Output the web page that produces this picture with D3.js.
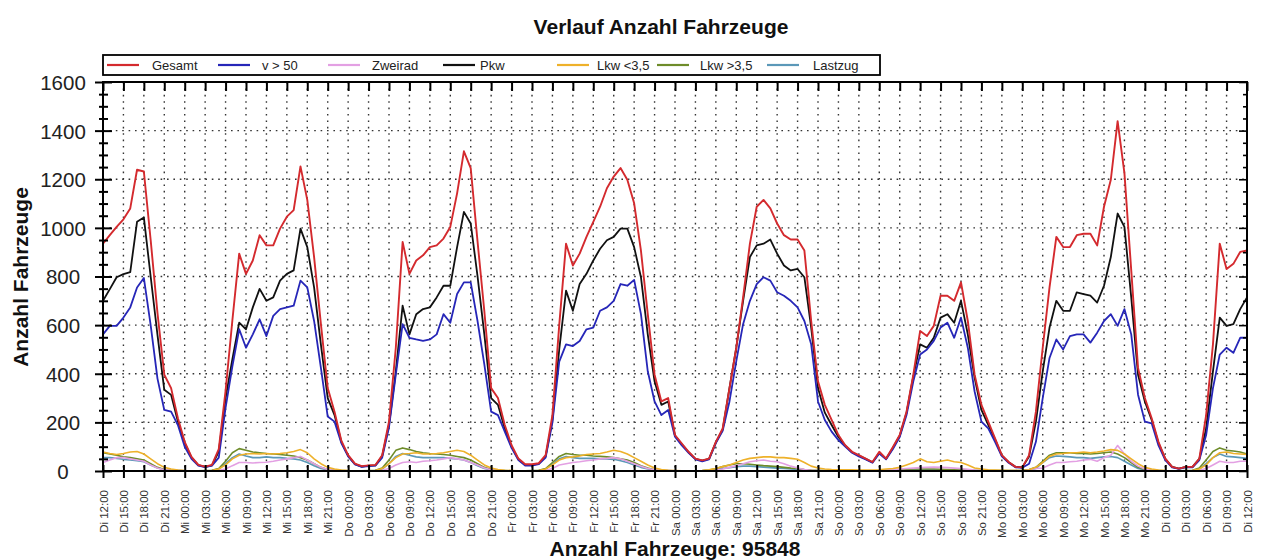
<!DOCTYPE html>
<html><head><meta charset="utf-8">
<script src="https://cdn.jsdelivr.net/npm/d3@7"></script>
<style>
body{margin:0;background:#fff;}
svg{display:block;font-family:"Liberation Sans",Arial,Helvetica,sans-serif;}
</style>
</head><body>
<svg id="chart" width="1261" height="560"></svg>
<script>
// ---- data (hourly, Di 12:00 .. Di 12:00) ----
const tickLabels = ["Di 12:00","Di 15:00","Di 18:00","Di 21:00",
"Mi 00:00","Mi 03:00","Mi 06:00","Mi 09:00","Mi 12:00","Mi 15:00","Mi 18:00","Mi 21:00",
"Do 00:00","Do 03:00","Do 06:00","Do 09:00","Do 12:00","Do 15:00","Do 18:00","Do 21:00",
"Fr 00:00","Fr 03:00","Fr 06:00","Fr 09:00","Fr 12:00","Fr 15:00","Fr 18:00","Fr 21:00",
"Sa 00:00","Sa 03:00","Sa 06:00","Sa 09:00","Sa 12:00","Sa 15:00","Sa 18:00","Sa 21:00",
"So 00:00","So 03:00","So 06:00","So 09:00","So 12:00","So 15:00","So 18:00","So 21:00",
"Mo 00:00","Mo 03:00","Mo 06:00","Mo 09:00","Mo 12:00","Mo 15:00","Mo 18:00","Mo 21:00",
"Di 00:00","Di 03:00","Di 06:00","Di 09:00","Di 12:00"];

const seriesNames = ["Gesamt","v > 50","Zweirad","Pkw","Lkw <3,5","Lkw >3,5","Lastzug"];

const gesamt = [
935,970,1004,1035,1080,1239,1232,950,650,396,341,217,
120,58,25,18,25,90,330,620,894,811,866,970,
928,928,997,1046,1073,1253,1115,880,604,341,244,125,
65,30,20,23,25,65,203,507,942,811,866,887,
921,928,956,1004,1142,1315,1246,945,657,341,300,189,
106,51,28,28,32,65,230,600,935,845,894,963,
1025,1087,1163,1211,1246,1198,1101,906,645,396,286,300,
148,113,79,51,44,51,120,175,341,507,714,935,
1087,1115,1080,1018,970,952,952,907,617,369,272,210,
148,106,79,65,51,37,79,51,99,148,244,396,
576,555,597,721,721,700,776,617,396,272,203,134,
65,37,17,15,65,244,507,755,963,921,921,970,
976,976,928,1087,1198,1439,1225,825,424,300,217,120,
51,17,10,17,17,51,230,521,935,831,852,901,907];

const v50 = [
562,597,597,631,673,755,794,600,380,251,244,189,
100,50,22,16,22,55,260,430,583,507,562,624,
555,638,666,673,680,783,755,617,424,224,203,115,
60,27,17,20,22,55,180,396,604,548,541,535,
541,562,645,610,728,776,776,617,439,244,230,162,
95,45,22,22,28,55,200,450,521,514,535,583,
590,659,673,700,769,762,786,645,410,286,230,251,
141,105,75,48,40,48,115,165,286,452,604,700,
769,797,783,735,721,700,673,617,521,286,210,162,
127,100,75,60,48,34,72,48,90,140,230,369,
479,500,535,590,610,548,631,507,327,203,175,120,
60,34,15,13,30,120,300,465,541,500,555,562,
562,528,569,617,645,597,666,562,314,203,196,105,
45,15,9,15,15,45,148,341,479,507,486,548,548];

const pkw = [
700,748,797,810,818,1025,1043,800,560,334,313,203,
115,55,24,17,23,80,300,460,610,583,673,749,
700,714,783,811,825,997,921,755,520,300,230,120,
62,28,18,22,23,62,190,410,680,562,645,666,
673,714,762,762,921,1066,1018,802,562,300,272,175,
100,48,25,25,30,60,210,500,742,659,769,811,
866,914,949,963,997,997,921,797,562,369,272,286,
145,110,77,50,43,50,118,170,341,507,700,880,
928,935,952,894,845,825,831,797,590,341,240,189,
140,104,77,63,50,36,75,50,95,145,240,390,
521,507,548,631,645,610,700,562,383,251,190,130,
63,36,17,15,60,203,410,590,700,659,659,735,
728,721,693,762,880,1059,1004,714,396,286,210,115,
50,17,10,17,17,50,175,410,631,597,604,666,714];

const zweirad = [
35,45,55,55,50,45,40,25,12,5,3,2,
1,0,0,0,1,3,8,22,35,35,33,35,
36,40,45,50,55,60,45,30,15,6,3,1,
1,0,0,0,1,3,10,25,35,38,35,40,
42,45,50,55,50,45,35,25,12,5,3,1,
1,0,0,0,1,3,10,25,30,35,38,42,
45,50,52,55,50,40,30,20,10,5,3,2,
1,1,0,0,0,1,3,8,15,22,30,38,
42,45,40,38,30,20,12,6,3,2,1,1,
0,0,0,0,0,1,2,4,6,8,10,12,
14,15,16,15,14,12,10,7,4,2,1,1,
0,0,0,0,5,10,12,25,35,35,38,40,
45,48,40,55,65,105,70,40,20,8,3,1,
0,0,0,0,1,3,10,25,40,35,35,40,40];

const lkwKlein = [
78,72,68,72,78,80,70,50,30,15,8,4,
2,1,1,1,2,8,25,50,65,70,72,70,
72,70,72,75,80,88,75,50,30,15,8,4,
2,1,1,1,2,10,30,55,70,72,75,70,
70,72,75,80,85,80,65,45,25,12,6,3,
2,1,1,1,2,8,25,45,55,58,62,68,
70,72,78,85,80,70,55,40,25,12,6,3,
2,1,1,1,2,5,10,18,25,35,45,52,
55,58,58,55,55,52,48,35,20,12,8,6,
5,5,5,4,4,4,5,8,10,15,25,35,
50,38,35,40,45,38,35,25,12,8,5,4,
3,2,2,2,5,15,35,60,70,72,75,75,
78,75,78,82,88,85,70,50,30,15,8,4,
2,1,1,1,2,8,25,55,75,78,72,70,68];

const lkwGross = [
75,70,65,58,55,50,45,30,15,6,3,2,
1,1,1,2,3,10,40,75,92,85,78,75,
72,70,68,65,62,55,45,30,15,6,3,2,
1,1,1,2,3,12,45,85,95,88,80,75,
72,70,68,65,60,55,45,30,15,6,3,2,
1,1,1,2,3,10,35,60,72,68,65,65,
62,60,58,55,50,45,35,22,12,5,3,2,
1,1,1,1,2,4,10,18,25,30,30,28,
25,22,20,18,15,12,10,6,4,3,2,2,
1,1,1,1,1,1,2,3,4,5,6,8,
8,8,8,7,6,5,4,3,2,2,2,2,
2,2,2,3,6,15,40,65,75,75,75,72,
72,70,72,75,78,70,55,35,15,6,3,2,
1,1,1,2,3,12,45,80,95,85,82,78,70];

const lastzug = [
55,55,52,48,45,42,38,25,12,5,3,2,
1,1,1,1,2,8,30,55,70,62,55,55,
58,55,55,52,50,45,35,22,10,4,2,1,
1,1,1,1,2,8,30,60,72,65,58,55,
55,55,55,52,50,45,35,22,10,4,2,1,
1,1,1,1,2,8,28,50,60,55,52,52,
52,50,50,48,42,35,25,15,8,3,2,1,
1,1,1,1,1,3,6,10,14,18,20,20,
18,16,14,12,10,8,6,4,2,1,1,1,
1,1,1,1,1,1,1,2,3,4,4,5,
5,5,5,4,4,3,3,2,2,1,1,1,
1,1,1,1,3,10,35,55,62,60,58,55,
55,52,55,58,60,55,40,25,10,4,2,1,
1,1,1,1,2,8,30,55,70,60,58,55,52];

const totalCount = 95848;

// ---- layout ----
const svg = d3.select("#chart");
const L = 103, R = 1247, T = 82, B = 471;
const nHours = gesamt.length - 1;
const x = d3.scaleLinear().domain([0, nHours]).range([L, R]);
const y = d3.scaleLinear().domain([0, 1600]).range([B, T]);
const tickHours = tickLabels.map((d, i) => i * 3);

// grid
const grid = svg.append("g").attr("stroke", "#333").attr("stroke-width", 1.4)
  .attr("stroke-dasharray", "1.6,4.8");
grid.selectAll("line.gh").data(d3.range(200, 1600, 200)).join("line").attr("class", "gh")
  .attr("x1", L).attr("x2", R).attr("y1", d => y(d)).attr("y2", d => y(d));
grid.selectAll("line.gv").data(tickHours.slice(1, -1)).join("line").attr("class", "gv")
  .attr("y1", T).attr("y2", B).attr("x1", d => x(d)).attr("x2", d => x(d));

// series
const series = [
  {name: "Lastzug", values: lastzug, color: "#5b98b8", w: 1.6},
  {name: "Lkw >3,5", values: lkwGross, color: "#6e8c2a", w: 1.6},
  {name: "Zweirad", values: zweirad, color: "#e3a0e3", w: 1.6},
  {name: "Lkw <3,5", values: lkwKlein, color: "#eeb12a", w: 1.6},
  {name: "Pkw", values: pkw, color: "#111111", w: 1.8},
  {name: "v > 50", values: v50, color: "#2626b8", w: 1.8},
  {name: "Gesamt", values: gesamt, color: "#d42a2e", w: 1.9}
];
const line = d3.line().x((d, i) => x(i)).y(d => y(d));
svg.append("g").selectAll("path").data(series).join("path")
  .attr("d", d => line(d.values)).attr("fill", "none")
  .attr("stroke", d => d.color).attr("stroke-width", d => d.w)
  .attr("stroke-linejoin", "round");

// axes
const axB = svg.append("g").attr("transform", `translate(0,${B})`)
  .call(d3.axisBottom(x).tickValues(tickHours).tickFormat((d, i) => tickLabels[i]).tickSizeOuter(0));
axB.selectAll(".tick line").attr("y1", -6).attr("y2", 7).attr("stroke", "#000").attr("stroke-width", 2);
axB.selectAll(".tick text").attr("transform", "rotate(-90)").attr("x", -19).attr("y", 0)
  .attr("dy", "0.36em").attr("text-anchor", "end").attr("font-size", 11.5)
  .attr("font-family", "'Liberation Sans',Arial,sans-serif").attr("fill", "#333");

const axT = svg.append("g").attr("transform", `translate(0,${T})`)
  .call(d3.axisTop(x).tickValues(tickHours).tickFormat("").tickSizeOuter(0));
axT.selectAll(".tick line").attr("y1", 0).attr("y2", 9).attr("stroke", "#000").attr("stroke-width", 2);

const yTicks = d3.range(0, 1601, 50);
const axLft = svg.append("g").attr("transform", `translate(${L},0)`)
  .call(d3.axisLeft(y).tickValues(yTicks).tickFormat(d => d % 200 === 0 ? d : "").tickSizeOuter(0));
axLft.selectAll(".tick line").attr("x1", d => d % 200 === 0 ? -8 : -4).attr("x2", d => d % 200 === 0 ? 9 : 5)
  .attr("stroke", "#000").attr("stroke-width", 2);
axLft.selectAll(".tick text").attr("x", -40).attr("text-anchor", "middle").attr("dy", "0.36em")
  .attr("font-size", 20.5).attr("font-family", "'Liberation Sans',Arial,sans-serif").attr("fill", "#222");

const axRt = svg.append("g").attr("transform", `translate(${R},0)`)
  .call(d3.axisRight(y).tickValues(yTicks).tickFormat("").tickSizeOuter(0));
axRt.selectAll(".tick line").attr("x1", d => d % 200 === 0 ? -8 : -4).attr("x2", 0)
  .attr("stroke", "#000").attr("stroke-width", 1.6);

svg.selectAll(".domain").remove();
svg.append("rect").attr("x", L).attr("y", T).attr("width", R - L).attr("height", B - T)
  .attr("fill", "none").attr("stroke", "#000").attr("stroke-width", 2);

// titles
svg.append("text").attr("x", 661).attr("y", 34).attr("text-anchor", "middle")
  .attr("font-size", 21).attr("font-weight", "bold").attr("fill", "#111")
  .text("Verlauf Anzahl Fahrzeuge");
svg.append("text").attr("x", 675).attr("y", 556).attr("text-anchor", "middle")
  .attr("font-size", 21).attr("font-weight", "bold").attr("fill", "#111")
  .text("Anzahl Fahrzeuge: " + totalCount);
svg.append("text").attr("transform", "translate(28,277) rotate(-90)").attr("text-anchor", "middle")
  .attr("font-size", 21).attr("font-weight", "bold").attr("fill", "#111")
  .text("Anzahl Fahrzeuge");

// legend
const legendOrder = ["Gesamt","v > 50","Zweirad","Pkw","Lkw <3,5","Lkw >3,5","Lastzug"];
const legendX = [107, 218, 328, 443, 557, 657, 767];
const legendTextX = [152, 262, 372, 480, 597, 700, 813];
const lg = svg.append("g");
lg.append("rect").attr("x", 103).attr("y", 55).attr("width", 777).attr("height", 20)
  .attr("fill", "#fff").attr("stroke", "#000").attr("stroke-width", 1.8);
const items = lg.selectAll("g.item").data(legendOrder).join("g").attr("class", "item");
items.append("line").attr("x1", (d, i) => legendX[i]).attr("x2", (d, i) => legendX[i] + 32)
  .attr("y1", 65).attr("y2", 65).attr("stroke-width", 2.2)
  .attr("stroke", d => series.find(s => s.name === d).color);
items.append("text").attr("x", (d, i) => legendTextX[i]).attr("y", 69.5)
  .attr("font-size", 13).attr("fill", "#222").text(d => d);
</script>
</body></html>
